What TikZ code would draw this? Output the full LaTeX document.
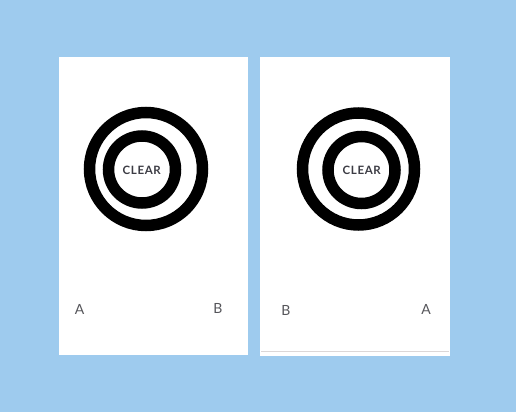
\documentclass[tikz,border=0pt]{standalone}
\usepackage{fontspec}
\setmainfont{Lato}
\newfontfamily\clearfont[LetterSpace=6]{Lato}
\definecolor{bgblue}{RGB}{158,203,238}
\definecolor{labgray}{RGB}{85,85,90}
\definecolor{cleargray}{RGB}{60,60,68}
\definecolor{edgegray}{RGB}{220,215,215}
\tikzset{
  card/.style={fill=white, draw=none},
  ring/.style={draw=black, line width=11.5pt},
  cleartxt/.style={font=\clearfont\fontsize{11.5}{11.5}\selectfont\bfseries, text=cleargray, inner sep=0pt},
  corner/.style={font=\fontsize{14}{14}\selectfont, text=labgray, inner sep=0pt}
}
\begin{document}
\begin{tikzpicture}[x=1pt,y=-1pt]
\fill[bgblue] (0,0) rectangle (516,412);
\useasboundingbox (0,0) rectangle (516,412);
% left card
\fill[card] (59,57) rectangle (248,355);
\draw[ring] (146,169) circle[radius=56.5];
\draw[ring] (142,169.5) circle[radius=33.5];
\node[cleartxt] (c1) at (141.7,170) {CLEAR};
\node[corner] (a1) at (79.5,309) {A};
\node[corner] (b1) at (218,308.5) {B};
% right card
\fill[card] (260,57.5) rectangle (450,356);
\draw[edgegray, line width=0.7pt] (261,351.5) -- (449,351.5);
\draw[ring] (358.5,169) circle[radius=56];
\draw[ring] (361.5,170) circle[radius=33.5];
\node[cleartxt] (c2) at (361.7,170) {CLEAR};
\node[corner] (b2) at (286,310) {B};
\node[corner] (a2) at (426,309) {A};
\end{tikzpicture}
\end{document}
